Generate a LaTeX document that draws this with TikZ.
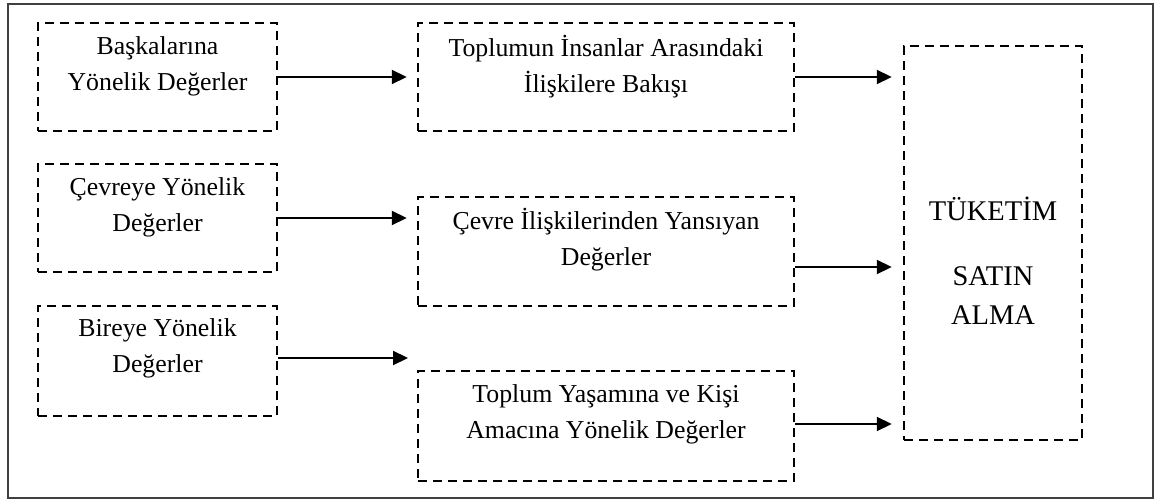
\documentclass[tikz,border=0pt]{standalone}
\usepackage{fontspec}
\setmainfont{Liberation Serif}
\usetikzlibrary{arrows.meta,calc}
\begin{document}
\begin{tikzpicture}[x=1pt,y=-1pt,
  dbox/.style={draw=black,line width=2.5pt,dash pattern=on 9pt off 6pt,rectangle,inner sep=0pt},
  txt/.style={align=center,font=\fontsize{25.8pt}{36pt}\selectfont,inner sep=0pt},
  bigtxt/.style={align=center,font=\fontsize{28.5pt}{39pt}\selectfont,inner sep=0pt},
  arr/.style={draw=black,line width=2.2pt,-{Triangle[length=15pt,width=14pt]}}]
\useasboundingbox (0,0) rectangle (1158,500);
\node[draw=black!75,line width=2pt,rectangle,minimum width=1145pt,minimum height=494pt,inner sep=0pt] (frame) at (580.5,251) {};
% left column
\node[dbox,minimum width=239pt,minimum height=108pt] (l1) at (157.5,77) {};
\node[dbox,minimum width=239pt,minimum height=108pt] (l2) at (157.5,218) {};
\node[dbox,minimum width=239pt,minimum height=110pt] (l3) at (157.5,361) {};
% middle column
\node[dbox,minimum width=376pt,minimum height=108pt] (m1) at (606,77) {};
\node[dbox,minimum width=376pt,minimum height=109pt] (m2) at (606,251.5) {};
\node[dbox,minimum width=376pt,minimum height=110pt] (m3) at (606,426) {};
% right
\node[dbox,minimum width=178pt,minimum height=394pt] (r) at (993,243) {};
% texts
\node[txt] (t1) at ($(l1.north)+(0,45)$) {Başkalarına\\Yönelik Değerler};
\node[txt] (t2) at ($(l2.north)+(0,45)$) {Çevreye Yönelik\\Değerler};
\node[txt] (t3) at ($(l3.north)+(0,44)$) {Bireye Yönelik\\Değerler};
\node[txt] (t4) at ($(m1.north)+(0,45)$) {Toplumun İnsanlar Arasındaki\\İlişkilere Bakışı};
\node[txt] (t5) at ($(m2.north)+(0,44)$) {Çevre İlişkilerinden Yansıyan\\Değerler};
\node[txt] (t6) at ($(m3.north)+(0,45)$) {Toplum Yaşamına ve Kişi\\Amacına Yönelik Değerler};
\node[bigtxt] (t7) at (993,209) {TÜKETİM};
\node[bigtxt] (t8) at (993,295.5) {SATIN\\ALMA};
% arrows
\coordinate (e3) at (408,358);
\draw[arr] (l1.east) -- ([xshift=-10pt]l1.east -| m1.west);
\draw[arr] (l2.east) -- ([xshift=-10pt]l2.east -| m2.west);
\draw[arr] ([yshift=3pt]l3.east) -- (e3);
\draw[arr] (m1.east) -- ([xshift=-11pt]m1.east -| r.west);
\draw[arr] ([yshift=-15.5pt]m2.east) -- ([xshift=-11pt,yshift=-15.5pt]m2.east -| r.west);
\draw[arr] ([yshift=2pt]m3.east) -- ([xshift=-11pt,yshift=2pt]m3.east -| r.west);
\end{tikzpicture}
\end{document}
